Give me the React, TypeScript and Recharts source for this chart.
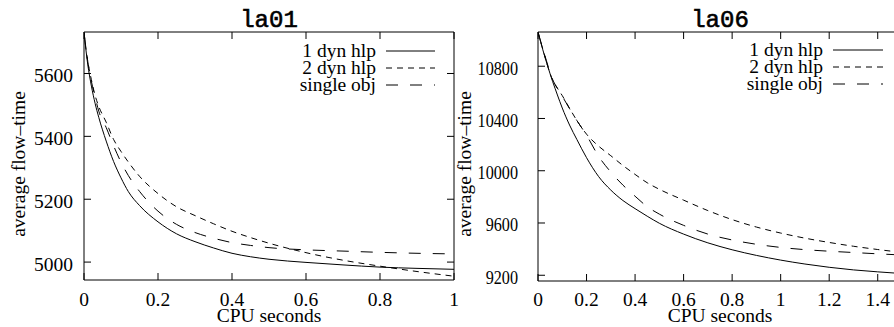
import React from "react";
import { LineChart, Line, XAxis, YAxis, Legend } from "recharts";

// ---------- data: la01 ----------
const la01Times = [0, 0.01, 0.02, 0.03, 0.04, 0.06, 0.08, 0.1, 0.12, 0.15, 0.2, 0.25, 0.3, 0.35, 0.4, 0.45, 0.5, 0.6, 0.7, 0.8, 0.9, 1.0];
const la01OneDyn = [5730, 5630, 5560, 5505, 5460, 5385, 5320, 5268, 5224, 5180, 5128, 5090, 5065, 5045, 5028, 5017, 5009, 4999, 4991, 4984, 4980, 4977];
const la01TwoDyn = [5730, 5640, 5580, 5530, 5495, 5445, 5390, 5352, 5318, 5273, 5218, 5176, 5148, 5122, 5098, 5078, 5060, 5030, 5006, 4987, 4970, 4955];
const la01Single = [5730, 5640, 5575, 5525, 5480, 5428, 5370, 5318, 5275, 5225, 5162, 5120, 5094, 5076, 5062, 5053, 5046, 5039, 5035, 5031, 5028, 5026];
const la01XTicks = [0, 0.2, 0.4, 0.6, 0.8, 1];
const la01YTicks = [5000, 5200, 5400, 5600];

// ---------- data: la06 ----------
const la06Times = [0, 0.02, 0.04, 0.06, 0.08, 0.1, 0.13, 0.16, 0.2, 0.25, 0.3, 0.35, 0.4, 0.45, 0.5, 0.6, 0.7, 0.8, 0.9, 1.0, 1.1, 1.2, 1.3, 1.4, 1.5];
const la06OneDyn = [11060, 10925, 10800, 10685, 10580, 10480, 10350, 10240, 10100, 9955, 9852, 9772, 9710, 9652, 9598, 9515, 9448, 9395, 9352, 9316, 9286, 9261, 9241, 9226, 9213];
const la06TwoDyn = [11060, 10930, 10800, 10695, 10632, 10575, 10478, 10385, 10280, 10188, 10115, 10040, 9972, 9908, 9858, 9775, 9695, 9626, 9569, 9523, 9484, 9451, 9422, 9397, 9375];
const la06Single = [11060, 10935, 10810, 10700, 10630, 10570, 10475, 10385, 10272, 10110, 9990, 9890, 9805, 9725, 9668, 9582, 9515, 9470, 9437, 9413, 9396, 9384, 9374, 9364, 9355];
const la06XTicks = [0, 0.2, 0.4, 0.6, 0.8, 1, 1.2, 1.4];
const la06YTicks = [9200, 9600, 10000, 10400, 10800];

const seriesNames = ["1 dyn hlp", "2 dyn hlp", "single obj"];
const seriesKeys = ["one", "two", "single"];
const seriesDash = ["", "6 5", "12 12"];

const build = (t: number[], a: number[], b: number[], c: number[]) =>
  t.map((x, i) => ({ t: x, one: a[i], two: b[i], single: c[i] }));

const la01Data = build(la01Times, la01OneDyn, la01TwoDyn, la01Single);
const la06Data = build(la06Times, la06OneDyn, la06TwoDyn, la06Single);

const SERIF = "'Liberation Serif', 'Times New Roman', serif";
const MONO = "'Liberation Mono', 'Courier New', monospace";
const FS = 19.5;

const makeLegend = (textRight: number, lineX1: number, lineX2: number, rows: number[]) => () => (
  <svg width={170} height={62} style={{ display: "block", overflow: "visible" }}>
    {seriesNames.map((n, i) => (
      <g key={n}>
        <text x={textRight} y={rows[i] + 6} textAnchor="end" fontFamily={SERIF} fontSize={FS} fill="#000">
          {n}
        </text>
        <line x1={lineX1} x2={lineX2} y1={rows[i]} y2={rows[i]} stroke="#000" strokeWidth={1} strokeDasharray={seriesDash[i] || undefined} />
      </g>
    ))}
  </svg>
);

// y tick label: right edge at textX, vertically at the tick's scale coordinate
const YTick = (props: any) => {
  const { payload, textX, sx } = props;
  return (
    <g transform={`translate(${textX},${payload.coordinate + 8.5})`}>
      <text transform={`scale(${sx},1)`} textAnchor="end" fontFamily={SERIF} fontSize={FS} fill="#000">
        {payload.value}
      </text>
    </g>
  );
};

// x tick label: centred on the tick's scale coordinate, baseline fixed
const XTick = (props: any) => {
  const { payload, baseY } = props;
  return (
    <text x={payload.coordinate} y={baseY} textAnchor="middle" fontFamily={SERIF} fontSize={FS} fill="#000">
      {String(payload.value)}
    </text>
  );
};

type PanelProps = {
  title: string;
  data: any[];
  left: number;
  xMax: number;
  yDomain: [number, number];
  xTicks: number[];
  yTicks: number[];
  yAxisWidth: number;
  marginRight: number;
  bottomHeight: number;
  yTextX: number;
  ySx: number;
  yTitleX: number;
  legendLeft: number;
  legendTop: number;
  legendGeom: [number, number, number, number[]];
};

const Panel = (p: PanelProps) => {
  const axisStroke = { stroke: "#000", strokeWidth: 1 };
  return (
    <div style={{ position: "absolute", left: p.left, top: 0 }}>
      <LineChart width={470} height={327} data={p.data} margin={{ top: 31, right: p.marginRight, bottom: 0, left: 0 }}>
        <XAxis
          dataKey="t"
          type="number"
          domain={[0, p.xMax]}
          allowDataOverflow
          ticks={p.xTicks}
          height={p.bottomHeight}
          tickSize={-7}
          axisLine={axisStroke}
          tickLine={axisStroke}
          tick={<XTick baseY={305.5} />}
          interval={0}
          label={{
            content: (lp: any) => {
              const vb = lp.viewBox;
              return (
                <text x={vb.x + vb.width / 2} y={321.5} textAnchor="middle" fontFamily={SERIF} fontSize={FS} fill="#000">
                  CPU seconds
                </text>
              );
            },
          }}
        />
        <XAxis
          xAxisId="top"
          orientation="top"
          dataKey="t"
          type="number"
          domain={[0, p.xMax]}
          allowDataOverflow
          ticks={p.xTicks}
          tickFormatter={() => ""}
          height={1}
          tickSize={-7}
          axisLine={axisStroke}
          tickLine={axisStroke}
          interval={0}
          label={{
            content: (lp: any) => {
              const vb = lp.viewBox;
              return (
                <text
                  x={vb.x + vb.width / 2}
                  y={27}
                  textAnchor="middle"
                  fontFamily={MONO}
                  fontSize={24}
                  fill="#000"
                  stroke="#000"
                  strokeWidth={0.6}
                >
                  {p.title}
                </text>
              );
            },
          }}
        />
        <YAxis
          type="number"
          domain={p.yDomain}
          allowDataOverflow
          ticks={p.yTicks}
          width={p.yAxisWidth}
          tickSize={-7}
          axisLine={axisStroke}
          tickLine={axisStroke}
          tick={<YTick textX={p.yTextX} sx={p.ySx} />}
          interval={0}
          label={{
            content: () => (
              <text
                x={p.yTitleX}
                y={164}
                transform={`rotate(-90 ${p.yTitleX} 164)`}
                textAnchor="middle"
                fontFamily={SERIF}
                fontSize={FS}
                fill="#000"
              >
                average flow–time
              </text>
            ),
          }}
        />
        <YAxis
          yAxisId="right"
          orientation="right"
          type="number"
          domain={p.yDomain}
          allowDataOverflow
          ticks={p.yTicks}
          width={1}
          tickSize={-7}
          tickFormatter={() => ""}
          axisLine={axisStroke}
          tickLine={axisStroke}
          interval={0}
        />
        <Legend
          layout="vertical"
          align="center"
          verticalAlign="middle"
          wrapperStyle={{ position: "absolute", left: p.legendLeft, top: p.legendTop, width: 170, height: 62 }}
          content={makeLegend(p.legendGeom[0], p.legendGeom[1], p.legendGeom[2], p.legendGeom[3])}
        />
        {seriesKeys.map((k, i) => (
          <Line
            key={k}
            dataKey={k}
            name={seriesNames[i]}
            type="monotone"
            stroke="#000"
            strokeWidth={1}
            strokeDasharray={seriesDash[i] || undefined}
            dot={false}
            activeDot={false}
            isAnimationActive={false}
          />
        ))}
        <Line
          dataKey="one"
          xAxisId="top"
          yAxisId="right"
          stroke="none"
          legendType="none"
          dot={false}
          activeDot={false}
          isAnimationActive={false}
        />
      </LineChart>
    </div>
  );
};

export default function App() {
  return (
    <div style={{ position: "absolute", left: 0, top: 0, width: 894, height: 327, overflow: "hidden", background: "#fff" }}>
      <Panel
        title="la01"
        data={la01Data}
        left={0}
        xMax={1}
        yDomain={[4943, 5732]}
        xTicks={la01XTicks}
        yTicks={la01YTicks}
        yAxisWidth={84}
        marginRight={15}
        bottomHeight={47}
        yTextX={73}
        ySx={1}
        yTitleX={25}
        legendLeft={280}
        legendTop={35}
        legendGeom={[96, 106, 155, [16, 33, 50]]}
      />
      <Panel
        title="la06"
        data={la06Data}
        left={440}
        xMax={1.5}
        yDomain={[9156, 11062]}
        xTicks={la06XTicks}
        yTicks={la06YTicks}
        yAxisWidth={98}
        marginRight={7}
        bottomHeight={46}
        yTextX={78}
        ySx={0.83}
        yTitleX={31}
        legendLeft={300}
        legendTop={35}
        legendGeom={[83, 93, 143, [15, 32, 49]]}
      />
    </div>
  );
}
